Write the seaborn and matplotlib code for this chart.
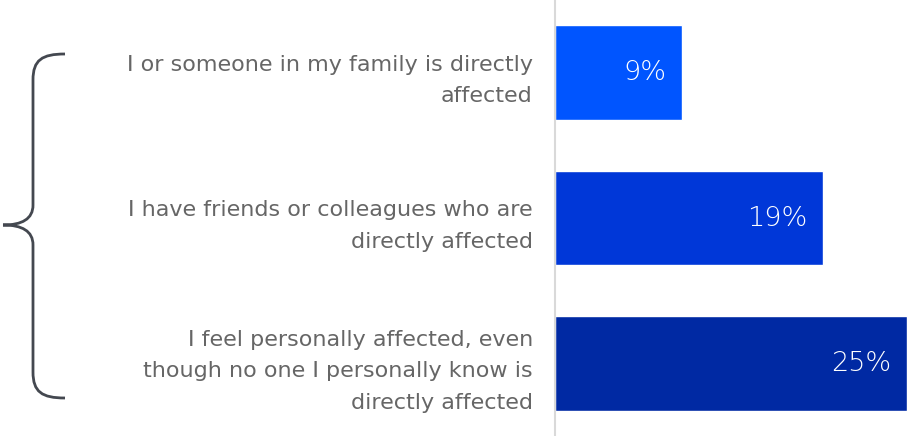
import matplotlib
matplotlib.use("Agg")
import matplotlib.pyplot as plt
import seaborn as sns
import pandas as pd
from matplotlib.path import Path
from matplotlib.patches import PathPatch

categories = [
    "I or someone in my family is directly\naffected",
    "I have friends or colleagues who are\ndirectly affected",
    "I feel personally affected, even\nthough no one I personally know is\ndirectly affected",
]
values = [9, 19, 25]
value_labels = ["9%", "19%", "25%"]
colors = ["#0055FF", "#0037D8", "#0029A3"]

df = pd.DataFrame({"category": categories, "value": values})

sns.set_theme(style="white")
plt.rcParams["font.family"] = ["DejaVu Sans"]

W, H = 907, 436
fig = plt.figure(figsize=(W / 100, H / 100), dpi=100)
ax = fig.add_axes([555 / W, 0, (907 - 555) / W, 1])

sns.barplot(data=df, x="value", y="category", hue="category", palette=colors,
            width=0.65, legend=False, ax=ax, saturation=1)

ax.set_xlim(0, 25)
ax.set_ylim(2.5, -0.5)
ax.set_xlabel("")
ax.set_ylabel("")
ax.set_xticks([])
for s in ["top", "right", "bottom"]:
    ax.spines[s].set_visible(False)
ax.spines["left"].set_color("#D9D9D9")
ax.spines["left"].set_linewidth(1.5)

ax.tick_params(axis="y", length=0, pad=16)
for lab in ax.get_yticklabels():
    lab.set_fontsize(16)
    lab.set_color("#666666")
    lab.set_multialignment("right")
    lab.set_linespacing(1.72)

for i, (v, t) in enumerate(zip(values, value_labels)):
    ax.annotate(t, xy=(v, i), xytext=(-11, 0), textcoords="offset points",
                ha="right", va="center", color="white", fontsize=19.5,
                fontweight="light")

# brace
def px(x, y):
    return (x / W, 1 - y / H)

verts = [px(65, 54), px(42, 54), px(33, 60), px(33, 80),
         px(33, 205),
         px(33, 219), px(22, 225), px(3, 225),
         px(22, 225), px(33, 231), px(33, 245),
         px(33, 372),
         px(33, 392), px(42, 398), px(65, 398)]
codes = [Path.MOVETO, Path.CURVE4, Path.CURVE4, Path.CURVE4,
         Path.LINETO,
         Path.CURVE4, Path.CURVE4, Path.CURVE4,
         Path.CURVE4, Path.CURVE4, Path.CURVE4,
         Path.LINETO,
         Path.CURVE4, Path.CURVE4, Path.CURVE4]
fig.patches.append(PathPatch(Path(verts, codes), transform=fig.transFigure,
                             facecolor="none", edgecolor="#444850", linewidth=2))

fig.savefig("out.png", dpi=100)
